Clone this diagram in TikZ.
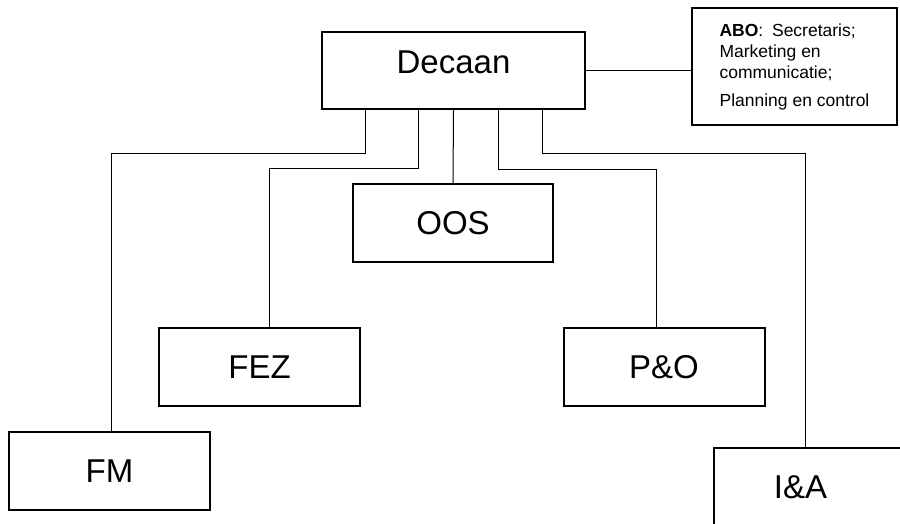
\documentclass[tikz,border=0pt]{standalone}
\usepackage{fontspec}
\setmainfont{Liberation Sans}
\usepackage{tikz}

\begin{document}
\begin{tikzpicture}[x=1pt, y=-1pt,
  afd/.style={draw, line width=2pt, minimum width=201pt, minimum height=78pt, inner sep=0pt, text height=23.6pt, text depth=0pt, font=\fontsize{33}{36}\selectfont},
  lijn/.style={line width=1pt}]
  \clip (0,0) rectangle (900,523);
  \fill[white] (0,0) rectangle (900,523);
  \node[afd, minimum width=263pt, minimum height=77pt, text depth=18.6pt] (dec) at (453.5,70.5) {Decaan};
  \node[afd, minimum width=205pt, minimum height=117pt, text height=, text depth=, align=left, font=\fontsize{17.5}{21}\selectfont] (abo) at (794.5,66.5) {\textbf{ABO}:\enspace Secretaris;\\ Marketing en\\ communicatie;\\[7pt] Planning en control};
  \node[afd, minimum width=200pt] (oos) at (453,223) {OOS};
  \node[afd] (fez) at (259.5,367) {FEZ};
  \node[afd] (po) at (664,367) {P\&O};
  \node[afd] (fm) at (109.5,470.5) {FM};
  \node[afd] (ia) at (814.5,487) {I\&A\hspace*{28pt}};
  \draw[lijn] (dec.east) -- (dec.east -| abo.west);
  \draw[lijn] ([xshift=-88pt]dec.south) -- ++(0,43) -| ([xshift=1.5pt]fm.north);
  \draw[lijn] ([xshift=-35.5pt]dec.south) -- ++(0,58) -| ([xshift=9.5pt]fez.north);
  \draw[lijn] (dec.south) -- (oos.north);
  \draw[lijn] ([xshift=44.5pt]dec.south) -- ++(0,59) -| ([xshift=-8pt]po.north);
  \draw[lijn] ([xshift=88.5pt]dec.south) -- ++(0,43) -| ([xshift=-9.5pt]ia.north);
\end{tikzpicture}
\end{document}
